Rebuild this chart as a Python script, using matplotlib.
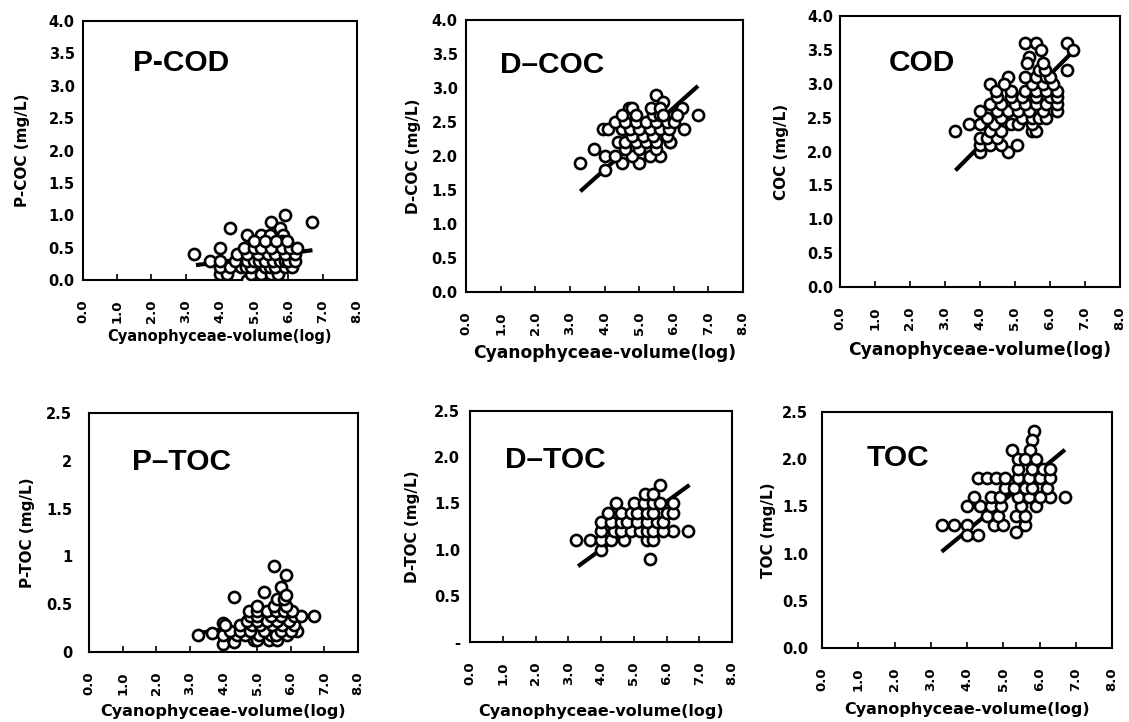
import matplotlib
matplotlib.use("Agg")
import matplotlib.pyplot as plt

# x axis shared by all six panels
x_ticks = [0, 1, 2, 3, 4, 5, 6, 7, 8]
x_tick_labels = ["0.0", "1.0", "2.0", "3.0", "4.0", "5.0", "6.0", "7.0", "8.0"]
x_label = "Cyanophyceae-volume(log)"
fit_x = [3.3, 6.7]

# P-COD
pcod_x = [3.25, 3.7, 4.0, 4.3, 4.8, 5.2, 5.5, 5.9, 6.7, 5.45, 5.75, 5.85, 5.8, 4.8,
          4.0, 4.2, 4.9, 5.2, 5.5, 5.7,
          4.0, 4.3, 4.6, 4.75, 4.9, 5.3, 5.45, 5.6, 5.9, 6.1,
          4.0, 4.45, 4.8, 5.0, 5.15, 5.3, 5.55, 5.75, 5.9, 6.0, 6.2,
          4.5, 4.8, 5.1, 5.4, 5.6, 5.9, 6.2,
          4.7, 5.0, 5.2, 5.5, 5.8, 6.05, 6.25,
          5.0, 5.3, 5.65, 5.95]
pcod_y = [0.4, 0.3, 0.5, 0.8, 0.7, 0.7, 0.9, 1.0, 0.9, 0.7, 0.8, 0.7, 0.6, 0.0,
          0.1, 0.1, 0.1, 0.1, 0.1, 0.1,
          0.2, 0.2, 0.2, 0.2, 0.2, 0.2, 0.2, 0.2, 0.2, 0.2,
          0.3, 0.3, 0.3, 0.3, 0.3, 0.3, 0.3, 0.3, 0.3, 0.3, 0.3,
          0.4, 0.4, 0.4, 0.4, 0.4, 0.4, 0.4,
          0.5, 0.5, 0.5, 0.5, 0.5, 0.5, 0.5,
          0.6, 0.6, 0.6, 0.6]
pcod_fit = [0.23, 0.46]

# D-COC
dcoc_x = [3.3, 3.7, 4.0, 4.0, 3.95, 6.7, 5.5, 6.3, 6.25, 5.0, 4.5, 5.6, 5.3, 5.9, 4.7, 4.8, 5.7,
          4.3, 4.8,
          4.6, 5.0, 5.5,
          4.4, 4.6, 4.9, 5.2, 5.5, 5.9,
          4.8, 5.1, 5.4, 5.8,
          4.1, 4.5, 4.75, 5.0, 5.3, 5.6, 5.85,
          4.3, 4.6, 4.9, 5.2, 5.5, 5.8, 6.0,
          4.5, 4.9, 5.4, 5.6, 6.1,
          5.35, 5.6,
          5.7]
dcoc_y = [1.9, 2.1, 1.8, 2.0, 2.4, 2.6, 2.9, 2.4, 2.7, 1.9, 1.9, 2.0, 2.0, 2.2, 2.7, 2.7, 2.8,
          2.0, 2.0,
          2.1, 2.1, 2.1,
          2.2, 2.2, 2.2, 2.2, 2.2, 2.2,
          2.3, 2.3, 2.3, 2.3,
          2.4, 2.4, 2.4, 2.4, 2.4, 2.4, 2.4,
          2.5, 2.5, 2.5, 2.5, 2.5, 2.5, 2.5,
          2.6, 2.6, 2.6, 2.6, 2.6,
          2.7, 2.7,
          2.6]
dcoc_fit = [1.48, 3.03]

# COD
cod_x = [3.3, 3.7, 4.0, 4.8, 5.05, 4.3, 4.8, 5.3, 5.6, 6.5, 6.65, 6.5, 5.75, 6.2, 5.4, 5.35,
         4.0, 4.3, 4.6,
         4.0, 4.2, 4.5,
         4.3, 4.6, 5.5, 5.6,
         4.0, 4.4, 4.9, 5.1, 5.5,
         4.2, 4.6, 5.2, 5.5, 5.7, 5.9,
         4.0, 4.5, 4.8, 5.1, 5.4, 5.8,
         4.3, 4.6, 5.0, 5.3, 5.6, 5.9, 6.2,
         4.5, 4.9, 5.2, 5.6, 6.0, 6.2,
         4.45, 4.9, 5.3, 5.6, 5.9, 6.2,
         4.7, 5.5, 5.8, 6.1,
         5.3, 5.6, 5.9, 6.0,
         5.7, 5.85,
         5.8]
cod_y = [2.3, 2.4, 2.0, 2.0, 2.1, 3.0, 3.1, 3.6, 3.6, 3.6, 3.5, 3.2, 3.5, 2.6, 3.4, 3.3,
         2.1, 2.1, 2.1,
         2.2, 2.2, 2.2,
         2.3, 2.3, 2.3, 2.3,
         2.4, 2.4, 2.4, 2.4, 2.4,
         2.5, 2.5, 2.5, 2.5, 2.5, 2.5,
         2.6, 2.6, 2.6, 2.6, 2.6, 2.6,
         2.7, 2.7, 2.7, 2.7, 2.7, 2.7, 2.7,
         2.8, 2.8, 2.8, 2.8, 2.8, 2.8,
         2.9, 2.9, 2.9, 2.9, 2.9, 2.9,
         3.0, 3.0, 3.0, 3.0,
         3.1, 3.1, 3.1, 3.1,
         3.2, 3.2,
         3.3]
cod_fit = [1.72, 3.5]

# P-TOC
ptoc_x = [3.25, 3.65, 4.0, 4.3, 4.3, 5.2, 5.5, 5.85, 6.7, 6.2, 5.7, 4.0,
          4.9, 5.0, 5.35, 5.6,
          4.0, 4.4, 4.65, 5.05, 5.4, 5.55, 5.9,
          4.2, 4.5, 4.8, 5.2, 5.7, 6.0,
          4.05, 4.5, 4.85, 5.1, 5.45, 5.75, 6.1,
          4.7, 5.0, 5.3, 5.6, 5.95,
          4.8, 5.0, 5.4, 5.7, 6.1, 6.3,
          4.75, 5.0, 5.3, 5.55, 5.8, 6.05,
          5.0, 5.5, 5.85,
          5.6, 5.8,
          5.85]
ptoc_y = [0.18, 0.2, 0.08, 0.1, 0.58, 0.63, 0.9, 0.8, 0.38, 0.22, 0.68, 0.3,
          0.12, 0.12, 0.12, 0.12,
          0.18, 0.18, 0.18, 0.18, 0.18, 0.18, 0.18,
          0.22, 0.22, 0.22, 0.22, 0.22, 0.22,
          0.28, 0.28, 0.28, 0.28, 0.28, 0.28, 0.28,
          0.32, 0.32, 0.32, 0.32, 0.32,
          0.38, 0.38, 0.38, 0.38, 0.38, 0.38,
          0.43, 0.43, 0.43, 0.43, 0.43, 0.43,
          0.48, 0.48, 0.48,
          0.55, 0.55,
          0.6]
ptoc_fit = [0.2, 0.38]

# D-TOC
dtoc_x = [3.25, 3.65, 6.65, 6.2, 5.5, 5.8, 4.45, 4.0,
          4.0, 4.3, 4.7, 5.4, 5.6,
          4.0, 4.4, 4.6, 4.9, 5.2, 5.4, 5.6, 5.9,
          4.0, 4.3, 4.6, 4.8, 5.1, 5.4, 5.7, 5.9,
          4.2, 4.6, 4.9, 5.1, 5.4, 5.6, 6.0, 6.2,
          5.0, 5.3, 5.6, 5.8, 6.2,
          5.35, 5.6]
dtoc_y = [1.1, 1.1, 1.2, 1.2, 0.9, 1.7, 1.5, 1.0,
          1.1, 1.1, 1.1, 1.1, 1.1,
          1.2, 1.2, 1.2, 1.2, 1.2, 1.2, 1.2, 1.2,
          1.3, 1.3, 1.3, 1.3, 1.3, 1.3, 1.3, 1.3,
          1.4, 1.4, 1.4, 1.4, 1.4, 1.4, 1.4, 1.4,
          1.5, 1.5, 1.5, 1.5, 1.5,
          1.6, 1.6]
dtoc_fit = [0.82, 1.7]

# TOC
toc_x = [3.3, 3.65, 4.0, 4.0, 4.3, 5.35, 5.85, 5.8, 5.75, 5.25, 6.7, 6.3, 4.3, 4.55, 4.8,
         4.75, 5.0, 5.6,
         4.55, 4.85, 5.35, 5.6,
         4.0, 4.35, 4.65, 4.95, 5.5, 5.9,
         4.2, 4.65, 4.9, 5.4, 5.7, 6.0,
         5.05, 5.3, 5.6, 5.8, 6.2,
         5.05, 5.4, 5.7, 6.0, 6.3,
         5.4, 5.8, 6.1, 6.3,
         5.4, 5.6, 5.9]
toc_y = [1.3, 1.3, 1.3, 1.2, 1.2, 1.23, 2.3, 2.2, 2.1, 2.1, 1.6, 1.6, 1.8, 1.8, 1.8,
         1.3, 1.3, 1.3,
         1.4, 1.4, 1.4, 1.4,
         1.5, 1.5, 1.5, 1.5, 1.5, 1.5,
         1.6, 1.6, 1.6, 1.6, 1.6, 1.6,
         1.7, 1.7, 1.7, 1.7, 1.7,
         1.8, 1.8, 1.8, 1.8, 1.8,
         1.9, 1.9, 1.9, 1.9,
         2.0, 2.0, 2.0]
toc_fit = [1.02, 2.1]

cod_ticks = [0, 0.5, 1.0, 1.5, 2.0, 2.5, 3.0, 3.5, 4.0]
cod_tick_labels = ["0.0", "0.5", "1.0", "1.5", "2.0", "2.5", "3.0", "3.5", "4.0"]
toc_ticks = [0, 0.5, 1.0, 1.5, 2.0, 2.5]
ptoc_tick_labels = ["0", "0.5", "1", "1.5", "2", "2.5"]
dtoc_tick_labels = ["-", "0.5", "1.0", "1.5", "2.0", "2.5"]
toc_tick_labels = ["0.0", "0.5", "1.0", "1.5", "2.0", "2.5"]

fig = plt.figure(figsize=(11.29, 7.22), dpi=100)


def draw_panel(rect, xs, ys, fit_y, title, title_xy, ylabel, ymax, yticks, ylabels,
               ypad, ylab_off, xlab_off, xlab_size):
    ax = fig.add_axes(rect)
    ax.plot(xs, ys, "o", ms=8, mfc="white", mec="black", mew=1.9, zorder=3)
    ax.plot(fit_x, fit_y, "-", color="black", lw=3, zorder=2, solid_capstyle="butt")
    ax.set_xlim(0, 8)
    ax.set_ylim(0, ymax)
    ax.set_xticks(x_ticks)
    ax.set_xticklabels(x_tick_labels, rotation=90, fontweight="bold", fontsize=9.5)
    ax.set_yticks(yticks)
    ax.set_yticklabels(ylabels, fontweight="bold", fontsize=10.5)
    ax.tick_params(axis="x", direction="in", length=4, width=1.2, pad=14)
    ax.tick_params(axis="y", direction="in", length=0, pad=ypad)
    for s in ax.spines.values():
        s.set_linewidth(1.5)
    ax.text(title_xy[0], title_xy[1], title, fontsize=21.5, family="Liberation Sans",
            fontweight="bold", va="center", ha="left")
    ax.set_ylabel(ylabel, fontweight="bold", fontsize=11)
    ax.yaxis.set_label_coords(-ylab_off / (rect[2] * 1129), 0.5)
    ax.yaxis.label.set_va("center")
    ax.set_xlabel(x_label, fontweight="bold", fontsize=xlab_size)
    ax.xaxis.set_label_coords(0.5, -xlab_off / (rect[3] * 722))
    ax.xaxis.label.set_va("center")
    return ax


draw_panel([0.0735, 0.6122, 0.2427, 0.3587], pcod_x, pcod_y, pcod_fit, "P-COD", (1.45, 3.35),
           "P-COC (mg/L)", 4.0, cod_ticks, cod_tick_labels, 6, 60, 57, 10.5)
draw_panel([0.4128, 0.5956, 0.2453, 0.3767], dcoc_x, dcoc_y, dcoc_fit, "D\u2013COC", (0.98, 3.34),
           "D-COC (mg/L)", 4.0, cod_ticks, cod_tick_labels, 6, 53, 61, 12.3)
draw_panel([0.7440, 0.6025, 0.2480, 0.3753], cod_x, cod_y, cod_fit, "COD", (1.4, 3.3),
           "COC (mg/L)", 4.0, cod_ticks, cod_tick_labels, 5, 58, 63, 12.3)
draw_panel([0.0788, 0.0970, 0.2383, 0.3310], ptoc_x, ptoc_y, ptoc_fit, "P\u2013TOC", (1.28, 1.99),
           "P-TOC (mg/L)", 2.5, toc_ticks, ptoc_tick_labels, 12, 61, 60, 11.5)
draw_panel([0.4163, 0.1108, 0.2321, 0.3199], dtoc_x, dtoc_y, dtoc_fit, "D\u2013TOC", (1.07, 1.97),
           "D-TOC (mg/L)", 2.5, toc_ticks, dtoc_tick_labels, 7, 58, 69, 11.5)
draw_panel([0.7281, 0.1025, 0.2569, 0.3269], toc_x, toc_y, toc_fit, "TOC", (1.24, 2.01),
           "TOC (mg/L)", 2.5, toc_ticks, toc_tick_labels, 10, 54, 62, 11.5)

fig.savefig("out.png", dpi=100)
